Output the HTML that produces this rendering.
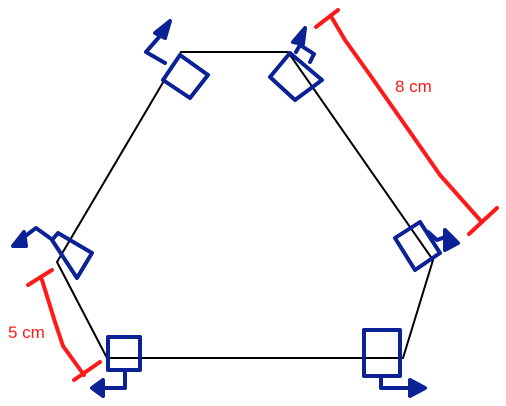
<!DOCTYPE html>
<html><head><meta charset="utf-8"><style>
html,body{margin:0;padding:0;background:#fff;}
svg{display:block;}
text{font-family:"Liberation Sans",sans-serif;}
</style></head><body>
<svg width="506" height="406" viewBox="0 0 506 406">
<polygon points="181,52 288,52 433,260 403,358 107,358 57,262" fill="none" stroke="#000" stroke-width="2"/>
<g fill="none" stroke="#0b2196" stroke-width="4" stroke-linejoin="round" stroke-linecap="round">
 <g>
  <polygon points="163,80 180,55 208,75 190,98"/>
  <polyline points="165,63 146,52 160,36 168,26"/>
  <polygon points="155,33 170,21 165,38" fill="#0b2196"/>
 </g>
 <g>
  <polygon points="270,77 290,53 322,80 295,100"/>
  <polyline points="296,52 300,45 314,54 310,62"/>
  <polygon points="293,42 305,28 303,44" fill="#0b2196"/>
 </g>
 <g>
  <polygon points="395,238 420,222 440,253 415,270"/>
  <polyline points="428,232 437,240 448,236"/>
  <polygon points="445,230 458,243 445,250" fill="#0b2196"/>
 </g>
 <g>
  <polygon points="52,240 58,233 92,253 77,278"/>
  <polyline points="50,238 36,228 20,240"/>
  <polygon points="13,246 24,232 26,246" fill="#0b2196"/>
 </g>
 <g>
  <rect x="108" y="337" width="32" height="33"/>
  <polyline points="125,370 125,388 100,388"/>
  <polygon points="92,388 103,380 103,396" fill="#0b2196"/>
 </g>
 <g>
  <rect x="364" y="330" width="36" height="46"/>
  <polyline points="381,376 381,388 412,388"/>
  <polygon points="425,388 410,380 410,396" fill="#0b2196"/>
 </g>
</g>
<g fill="none" stroke="#ff1a1a" stroke-width="4" stroke-linecap="round">
 <g>
  <polyline points="332,18 345,40 370,75 410,132 440,175 480,220"/>
  <line x1="316" y1="27" x2="338" y2="10"/>
  <line x1="469" y1="234" x2="497" y2="208"/>
 </g>
 <g>
  <polyline points="42,280 55,322 63,346 84,375"/>
  <line x1="28" y1="285" x2="52" y2="270"/>
  <line x1="74" y1="380" x2="100" y2="362"/>
 </g>
</g>
<text x="395" y="92" font-size="17" fill="#ff1a1a">8 cm</text>
<text x="8" y="338" font-size="17" fill="#ff1a1a">5 cm</text>
</svg>
</body></html>
